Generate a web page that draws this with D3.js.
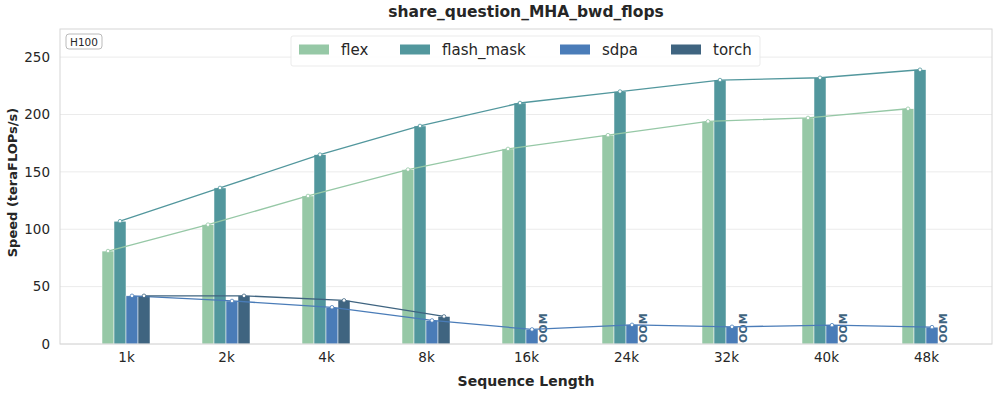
<!DOCTYPE html>
<html>
<head>
<meta charset="utf-8">
<script src="https://cdn.jsdelivr.net/npm/d3@7"></script>
<style>
  body { margin: 0; background: #fff; }
  text { font-family: "DejaVu Sans", sans-serif; fill: #262626; }
</style>
</head>
<body>
<svg id="chart"></svg>
<script>
'use strict'

const width = 997,
      height = 394

// chart data
const seqLengths = ["1k", "2k", "4k", "8k", "16k", "24k", "32k", "40k", "48k"]
const methods = ["flex", "flash_mask", "sdpa", "torch"]
const flexSpeed = [81, 104, 129, 152, 170, 182, 194, 197, 205]
const flashMaskSpeed = [107, 136, 165, 190, 210, 220, 230, 232, 239]
const sdpaSpeed = [42, 37.5, 32, 20.5, 12.7, 16.7, 15, 16.4, 14.7]
const torchSpeed = [42, 42, 38, 24, null, null, null, null, null] // null = OOM
const yTicks = [0, 50, 100, 150, 200, 250]
const colors = ["#96c8a6", "#52979d", "#4a7cb8", "#3f6480"]

const seriesValues = [flexSpeed, flashMaskSpeed, sdpaSpeed, torchSpeed]

const margin = { top: 29, right: 5, bottom: 50, left: 60 }
const plotW = width - margin.left - margin.right,
      plotH = height - margin.top - margin.bottom

const svg = d3.select("#chart")
  .attr("width", width)
  .attr("height", height)

// x: point scale for the category centers, band inside for the 4 bars
const x = d3.scalePoint()
  .domain(seqLengths)
  .range([0, plotW])
  .padding(0.66)

const barW = 12
const xInner = d3.scaleBand()
  .domain(methods)
  .range([-2 * barW, 2 * barW])

const y = d3.scaleLinear()
  .domain([0, 274.5])
  .range([plotH, 0])

const g = svg.append("g")
  .attr("transform", `translate(${margin.left},${margin.top})`)

// horizontal grid
g.append("g")
  .selectAll("line")
  .data(yTicks)
  .enter().append("line")
    .attr("x1", 0)
    .attr("x2", plotW)
    .attr("y1", d => y(d))
    .attr("y2", d => y(d))
    .attr("stroke", "#ebebeb")
    .attr("stroke-width", 1)

// y axis tick labels
const yAxis = g.append("g")
  .call(d3.axisLeft(y).tickValues(yTicks).tickSize(0).tickPadding(10))
yAxis.select(".domain").remove()
yAxis.selectAll("text")
  .style("font-size", "13.5px")
  .style("font-family", "DejaVu Sans, sans-serif")
  .attr("fill", "#262626")

// x axis tick labels
const xAxis = g.append("g")
  .attr("transform", `translate(0,${plotH})`)
  .call(d3.axisBottom(x).tickSize(0).tickPadding(8))
xAxis.select(".domain").remove()
xAxis.selectAll("text")
  .style("font-size", "13.5px")
  .style("font-family", "DejaVu Sans, sans-serif")
  .attr("fill", "#262626")

// bars
methods.forEach((m, i) => {
  const vals = seriesValues[i]
  g.append("g")
    .selectAll("rect")
    .data(seqLengths.map((s, j) => ({ s, v: vals[j] })).filter(d => d.v !== null))
    .enter().append("rect")
      .attr("x", d => x(d.s) + xInner(m))
      .attr("y", d => y(d.v))
      .attr("width", xInner.bandwidth())
      .attr("height", d => plotH - y(d.v))
      .attr("fill", colors[i])
      .attr("stroke", "#fff")
      .attr("stroke-width", 0.5)
})

// OOM labels for missing torch values
g.append("g")
  .selectAll("text")
  .data(seqLengths.filter((s, j) => torchSpeed[j] === null))
  .enter().append("text")
    .attr("transform", d => `translate(${x(d) + xInner("torch") + barW / 2 + 3},${plotH - 1}) rotate(-90)`)
    .attr("text-anchor", "start")
    .style("font-size", "11px")
    .style("font-weight", "bold")
    .style("fill", colors[3])
    .text("OOM")

// trend lines through bar tops, with small markers
methods.forEach((m, i) => {
  const pts = seqLengths.map((s, j) => ({ s, v: seriesValues[i][j] }))
    .filter(d => d.v !== null)
  const cx = d => x(d.s) + xInner(m) + barW / 2
  g.append("path")
    .datum(pts)
    .attr("fill", "none")
    .attr("stroke", colors[i])
    .attr("stroke-width", 1.3)
    .attr("d", d3.line().x(cx).y(d => y(d.v)))
  g.append("g")
    .selectAll("circle")
    .data(pts)
    .enter().append("circle")
      .attr("cx", cx)
      .attr("cy", d => y(d.v))
      .attr("r", 1.8)
      .attr("fill", "#fff")
      .attr("stroke", colors[i])
      .attr("stroke-width", 0.8)
})

// axes frame
g.append("rect")
  .attr("x", 0)
  .attr("y", 0)
  .attr("width", plotW)
  .attr("height", plotH)
  .attr("fill", "none")
  .attr("stroke", "#d6d6d6")
  .attr("stroke-width", 1)

// H100 tag
g.append("rect")
  .attr("x", 6)
  .attr("y", 5)
  .attr("width", 36)
  .attr("height", 15)
  .attr("rx", 3)
  .attr("fill", "#fff")
  .attr("stroke", "#aaa")
  .attr("stroke-width", 0.8)
g.append("text")
  .attr("x", 24)
  .attr("y", 16.5)
  .attr("text-anchor", "middle")
  .style("font-size", "10.5px")
  .text("H100")

// legend
const legend = svg.append("g").attr("transform", "translate(291,36)")
legend.append("rect")
  .attr("width", 469)
  .attr("height", 30)
  .attr("rx", 2)
  .attr("fill", "#fff")
  .attr("fill-opacity", 0.85)
  .attr("stroke", "#e6e6e6")
  .attr("stroke-width", 0.8)
const legendX = [8, 109, 269, 380]
methods.forEach((m, i) => {
  const item = legend.append("g").attr("transform", `translate(${legendX[i]},0)`)
  item.append("rect")
    .attr("x", 0)
    .attr("y", 8.5)
    .attr("width", 30)
    .attr("height", 10)
    .attr("fill", colors[i])
  item.append("text")
    .attr("x", 42)
    .attr("y", 19)
    .style("font-size", "15px")
    .text(m)
})

// title and axis labels
svg.append("text")
  .attr("x", margin.left + plotW / 2)
  .attr("y", 17)
  .attr("text-anchor", "middle")
  .style("font-size", "15.5px")
  .style("font-weight", "bold")
  .text("share_question_MHA_bwd_flops")

svg.append("text")
  .attr("x", margin.left + plotW / 2)
  .attr("y", 386)
  .attr("text-anchor", "middle")
  .style("font-size", "14px")
  .style("font-weight", "bold")
  .text("Sequence Length")

svg.append("text")
  .attr("transform", `translate(17,${margin.top + plotH / 2 - 4}) rotate(-90)`)
  .attr("text-anchor", "middle")
  .style("font-size", "13px")
  .style("font-weight", "bold")
  .text("Speed (teraFLOPs/s)")
</script>
</body>
</html>
